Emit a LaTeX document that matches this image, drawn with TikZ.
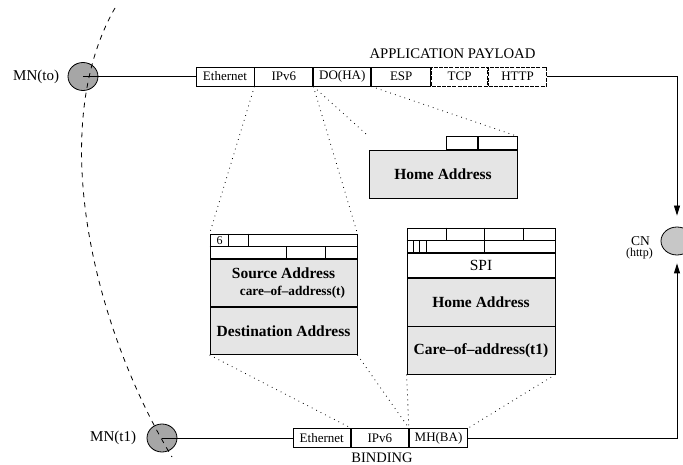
\documentclass[tikz,border=0pt]{standalone}
\usepackage{fontspec}
\setmainfont{Liberation Serif}
\usetikzlibrary{positioning,shapes.geometric,arrows.meta}

\begin{document}
\begin{tikzpicture}[x=1pt,y=-1pt,
			fld/.style={rectangle,draw=black,line width=0.9pt,inner sep=0pt,minimum height=19pt,font=\fontsize{13}{14}\selectfont},
			encfld/.style={fld,dash pattern=on 4pt off 1.2pt},
			hdr/.style={rectangle,draw=black,line width=0.8pt,fill=white,inner sep=0pt},
			addr/.style={rectangle,draw=black,line width=0.8pt,fill=black!10,inner sep=0pt,align=center,font=\fontsize{15.5}{17}\selectfont\bfseries},
			host/.style={ellipse,draw=black,line width=0.8pt,inner sep=0pt,minimum width=30pt,minimum height=28pt},
			hostname/.style={font=\fontsize{15}{16}\selectfont},
			link/.style={draw=black,line width=0.8pt},
			proj/.style={draw=black,line width=0.8pt,dash pattern=on 0.8pt off 4.2pt},
			move/.style={draw=black,line width=0.8pt,dash pattern=on 5pt off 5pt},
			tip/.style={-{Triangle[length=10pt,width=6pt]}}]
		\useasboundingbox (0,0) rectangle (683,465);
		\path 	(83,76.5) 	node 	(mnto) [host, fill=black!35, label={[label distance=5pt,hostname]left:MN(to)}] {}
		        (162,438) 	node 	(mnt1) [host, fill=black!35, label={[label distance=7pt,hostname]left:MN(t1)}] {}
		        (677,241) 	node 	(cn) [host, fill=black!22, minimum width=32pt] {}
		        (650,246) 	node 	(cnname) [anchor=base east, inner sep=0pt, font=\fontsize{13.5}{14}\selectfont] {CN}
		        (653,257) 	node 	(cnsvc) [anchor=base east, inner sep=0pt, font=\fontsize{12}{13}\selectfont] {(http)};
		\path 	(225,76.5) 	node 	(eth) [fld, minimum width=58pt] {Ethernet}
		        node 	(ip) [fld, minimum width=58pt, right=0pt of eth] {IPv6}
		        node 	(do) [fld, minimum width=57pt, right=0pt of ip] {DO(HA)}
		        node 	(esp) [fld, minimum width=59pt, right=0pt of do] {ESP}
		        node 	(tcp) [encfld, minimum width=56pt, right=0pt of esp] {TCP}
		        node 	(http) [encfld, minimum width=58pt, right=0pt of tcp] {HTTP}
		        (452.5,54) 	node 	(payload) [font=\fontsize{14.7}{16}\selectfont] {APPLICATION PAYLOAD};
		\path 	(321.75,438) 	node 	(beth) [fld, minimum width=57.5pt] {Ethernet}
		        node 	(bip) [fld, minimum width=57pt, right=0pt of beth] {IPv6}
		        node 	(bmh) [fld, minimum width=58.5pt, right=0pt of bip] {MH(BA)}
		        (382,458) 	node 	(binding) [font=\fontsize{14.5}{16}\selectfont] {BINDING};
		\path 	(443,174) 	node 	(hoa) [addr, minimum width=148pt, minimum height=48pt] {Home Address}
		        node 	(optb) [hdr, minimum width=39pt, minimum height=12.5pt, above left=0pt and 0pt of hoa.north east] {}
		        node 	(opta) [hdr, minimum width=31pt, minimum height=12.5pt, left=0pt of optb] {};
		\path 	(283.5,246.25) 	node 	(iphdr) [hdr, minimum width=147pt, minimum height=24.5pt] {}
		        node 	(srcaddr) [addr, minimum width=147pt, minimum height=47.5pt, below=0pt of iphdr] {Source Address\\\hspace*{18pt}{\fontsize{13.3}{13}\selectfont care--of--address(t)}}
		        node 	(dstaddr) [addr, minimum width=147pt, minimum height=47pt, below=0pt of srcaddr] {Destination Address}
		        (219.5,240.5) 	node 	(ver) [inner sep=0pt, font=\fontsize{12}{13}\selectfont] {6};
		\draw [link] (iphdr.west) -- (iphdr.east)
		        ([xshift=19pt]iphdr.north west) -- ([xshift=19pt]iphdr.west)
		        ([xshift=39pt]iphdr.north west) -- ([xshift=39pt]iphdr.west)
		        ([xshift=77pt]iphdr.west) -- ([xshift=77pt]iphdr.south west)
		        ([xshift=116pt]iphdr.west) -- ([xshift=116pt]iphdr.south west);
		\path 	(481,240.15) 	node 	(mhhdr) [hdr, minimum width=148pt, minimum height=24.3pt] {}
		        node 	(spi) [hdr, minimum width=148pt, minimum height=24.4pt, below=0pt of mhhdr, font=\fontsize{15.5}{17}\selectfont] {SPI}
		        node 	(mhhoa) [addr, minimum width=148pt, minimum height=47.6pt, below=0pt of spi] {Home Address}
		        node 	(coa) [addr, minimum width=148pt, minimum height=47.4pt, below=0pt of mhhoa] {Care--of--address(t1)};
		\draw [link] (mhhdr.west) -- (mhhdr.east)
		        ([xshift=39.7pt]mhhdr.north west) -- ([xshift=39.7pt]mhhdr.west)
		        ([xshift=78pt]mhhdr.north west) -- ([xshift=78pt]mhhdr.south west)
		        ([xshift=116.3pt]mhhdr.north west) -- ([xshift=116.3pt]mhhdr.west)
		        ([xshift=7pt]mhhdr.west) -- ([xshift=7pt]mhhdr.south west)
		        ([xshift=13pt]mhhdr.west) -- ([xshift=13pt]mhhdr.south west)
		        ([xshift=19.7pt]mhhdr.west) -- ([xshift=19.7pt]mhhdr.south west);
		\draw [proj] (ip.south west) -- (iphdr.north west)
		        (do.south west) -- (iphdr.north east)
		        (do.south west) -- (hoa.north west |- optb.north)
		        (do.south east) -- (optb.north east)
		        (dstaddr.south west) -- (bip.north west)
		        (dstaddr.south east) -- (bmh.north west)
		        (coa.south west) -- (bmh.north west)
		        (coa.south east) -- (bmh.north east);
		\draw [link] (mnto.center) -- (eth.west)  (mnt1.center) -- (beth.west);
		\draw [link,tip,shorten >=11pt] (http.east) -| (cn.north);
		\draw [link,tip,shorten >=8pt] (bmh.east) -| (cn.south);
		\draw [move] (115,8) .. controls (45,130) and (95,330) .. (172,457);
	\end{tikzpicture}
\end{document}
